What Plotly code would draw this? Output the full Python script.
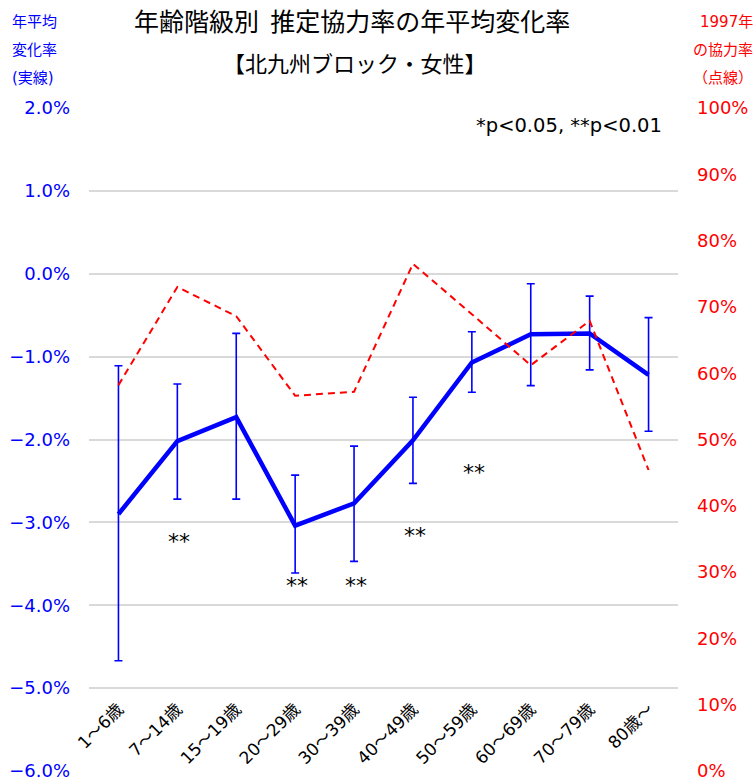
import plotly.graph_objects as go

# Age groups (category axis)
age_groups = ["1～6歳", "7～14歳", "15～19歳", "20～29歳", "30～39歳",
              "40～49歳", "50～59歳", "60～69歳", "70～79歳", "80歳～"]

# Average annual change of estimated cooperation rate (fraction), with CI bounds
annual_change = [-0.0290, -0.0202, -0.0173, -0.0304, -0.0277,
                 -0.0201, -0.0107, -0.0073, -0.0072, -0.0122]
ci_upper = [-0.0111, -0.0133, -0.0072, -0.0243, -0.0208,
            -0.0149, -0.0070, -0.0012, -0.0027, -0.0053]
ci_lower = [-0.0467, -0.0272, -0.0272, -0.0361, -0.0347,
            -0.0253, -0.0143, -0.0135, -0.0116, -0.0190]

# Cooperation rate in 1997 (fraction)
rate_1997 = [0.582, 0.730, 0.686, 0.566, 0.572,
             0.765, 0.689, 0.612, 0.679, 0.454]

# Significance marks: (category, y position on left axis, label)
sig_marks = [("7～14歳", -0.0323, "**"),
             ("20～29歳", -0.0376, "**"),
             ("30～39歳", -0.0376, "**"),
             ("40～49歳", -0.0316, "**"),
             ("50～59歳", -0.0240, "**")]

left_ticks = [0.02, 0.01, 0.0, -0.01, -0.02, -0.03, -0.04, -0.05, -0.06]
right_ticks = [i / 10 for i in range(11)]

W, H = 756, 778
ML, MR, MT, MB = 89, 78, 108, 7
PW, PH = W - ML - MR, H - MT - MB

def px_x(x):
    return (x - ML) / PW

def px_y(y):
    return (H - MB - y) / PH

FONT = "DejaVu Sans, Noto Sans CJK JP, sans-serif"
BLUE = "#0000FF"
RED = "#FF0000"

err_plus = [u - v for u, v in zip(ci_upper, annual_change)]
err_minus = [v - l for v, l in zip(annual_change, ci_lower)]

fig = go.Figure()

fig.add_trace(go.Scatter(
    x=age_groups, y=rate_1997, yaxis="y2", mode="lines",
    line=dict(color=RED, width=2, dash="7px,5px"),
    hoverinfo="skip", showlegend=False,
))

fig.add_trace(go.Scatter(
    x=age_groups, y=annual_change, mode="lines",
    line=dict(color=BLUE, width=4.5),
    error_y=dict(type="data", symmetric=False, array=err_plus,
                 arrayminus=err_minus, color=BLUE, thickness=1.6, width=4),
    showlegend=False,
))

annotations = []
for cat, yv, txt in sig_marks:
    annotations.append(dict(x=cat, y=yv, xref="x", yref="y", text=txt,
                            showarrow=False, xshift=2, yanchor="middle",
                            font=dict(family=FONT, size=22, color="#000000")))

# Title lines
annotations.append(dict(x=px_x(352), y=px_y(20), xref="paper", yref="paper",
                        text="年齢階級別\u00a0\u00a0推定協力率の年平均変化率",
                        showarrow=False, xanchor="center", yanchor="middle",
                        font=dict(family="Noto Sans CJK JP", size=25, color="#000000")))
annotations.append(dict(x=px_x(355), y=px_y(62), xref="paper", yref="paper",
                        text="【北九州ブロック・女性】", showarrow=False,
                        xanchor="center", yanchor="middle",
                        font=dict(family="Noto Sans CJK JP", size=22, color="#000000")))

# Axis captions
for i, t in enumerate(["年平均", "変化率", "(実線)"]):
    annotations.append(dict(x=px_x(10), y=px_y(22 + 28 * i), xref="paper", yref="paper",
                            text=t, showarrow=False, xanchor="left", yanchor="middle",
                            font=dict(family=FONT, size=15, color=BLUE)))
for i, t in enumerate(["1997年", "の協力率", "（点線）"]):
    annotations.append(dict(x=px_x(755), y=px_y(22 + 28 * i), xref="paper", yref="paper",
                            text=t, showarrow=False, xanchor="right", yanchor="middle",
                            font=dict(family=FONT, size=15, color=RED)))

annotations.append(dict(x=px_x(664), y=px_y(125), xref="paper", yref="paper",
                        text="*p<0.05, **p<0.01", showarrow=False,
                        xanchor="right", yanchor="middle",
                        font=dict(family=FONT, size=19.5, color="#000000")))

fig.update_layout(
    width=W, height=H,
    margin=dict(l=ML, r=MR, t=MT, b=MB, pad=0, autoexpand=False),
    paper_bgcolor="white", plot_bgcolor="white",
    font=dict(family=FONT),
    xaxis=dict(
        type="category", range=[-0.5, 9.5], anchor="free",
        position=px_y(688), showgrid=False, showline=False, zeroline=False,
        ticks="", tickangle=-45, ticklabelstandoff=7, automargin=False,
        tickfont=dict(family=FONT, size=17, color="#000000"),
    ),
    yaxis=dict(
        range=[-0.06, 0.02], tickvals=left_ticks, tickformat=".1%",
        showgrid=True, gridcolor="#D9D9D9", gridwidth=1.5,
        zeroline=False, showline=False, ticks="", ticklabelstandoff=18,
        ticklabeloverflow="allow", automargin=False,
        tickfont=dict(family=FONT, size=18, color=BLUE),
    ),
    yaxis2=dict(
        range=[0, 1], tickvals=right_ticks, tickformat=".0%",
        overlaying="y", side="right", showgrid=False, zeroline=False,
        showline=False, ticks="", ticklabelstandoff=18,
        ticklabeloverflow="allow", automargin=False,
        tickfont=dict(family=FONT, size=18, color=RED),
    ),
    annotations=annotations,
)

fig.write_html("out.html")
